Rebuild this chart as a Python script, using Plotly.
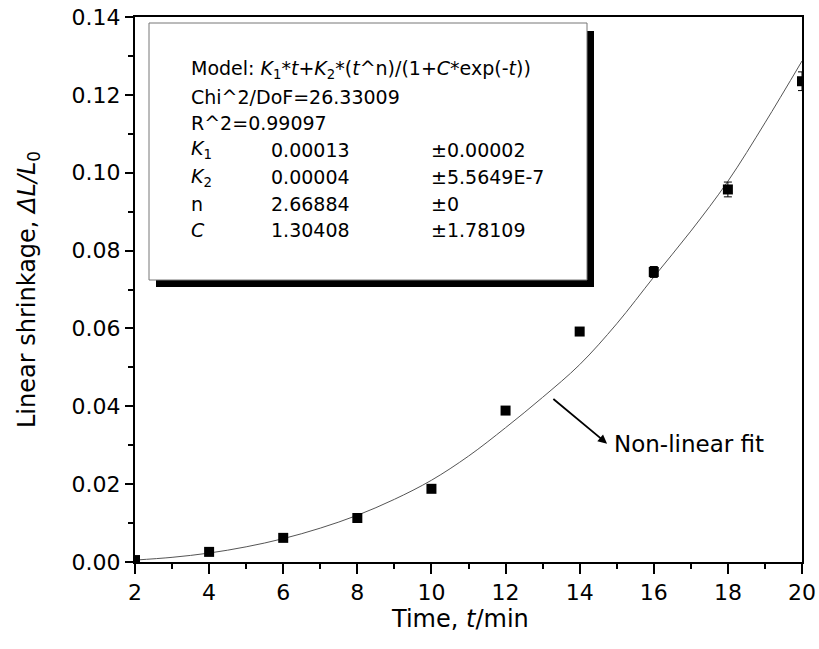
import plotly.graph_objects as go

# ---- data ----
time_min = [2, 4, 6, 8, 10, 12, 14, 16, 18, 20]
shrinkage = [0.0005, 0.0026, 0.0062, 0.0113, 0.0188, 0.0389, 0.0592, 0.0745, 0.0957, 0.1235]
shrink_err = [0.0, 0.0002, 0.0002, 0.0003, 0.0003, 0.0004, 0.0007, 0.0014, 0.0019, 0.0024]

fit_t = [2, 3, 4, 5, 6, 7, 8, 9, 10, 11, 12, 13, 14, 15, 16, 17, 18, 19, 20]
fit_y = [0.0005, 0.0012, 0.0023, 0.0039, 0.0060, 0.0087, 0.0120, 0.0161, 0.0210, 0.0272,
         0.0345, 0.0423, 0.0507, 0.0612, 0.0732, 0.0850, 0.0978, 0.1128, 0.1287]

x_ticks = [2, 4, 6, 8, 10, 12, 14, 16, 18, 20]
y_ticks = [0.00, 0.02, 0.04, 0.06, 0.08, 0.10, 0.12, 0.14]

box_lines = [
    "Model: <i>K</i><sub>1</sub>*<i>t</i>+<i>K</i><sub>2</sub>*(<i>t</i>^n)/(1+<i>C</i>*exp(-<i>t</i>))",
    "Chi^2/DoF=26.33009",
    "R^2=0.99097",
]
param_names = ["<i>K</i><sub>1</sub>", "<i>K</i><sub>2</sub>", "n", "<i>C</i>"]
param_values = ["0.00013", "0.00004", "2.66884", "1.30408"]
param_errors = ["±0.00002", "±5.5649E-7", "±0", "±1.78109"]

# ---- layout geometry (page pixels) ----
W, H = 819, 649
L, R, T, B = 135, 802, 17, 562          # plot area
FONT = "DejaVu Sans, Liberation Sans, Arial, sans-serif"


def px(xp):
    return (xp - L) / (R - L)


def py(yp):
    return (B - yp) / (B - T)


fig = go.Figure()

fig.add_trace(go.Scatter(
    x=fit_t, y=fit_y, mode="lines", line=dict(color="#555555", width=1, shape="spline"),
    showlegend=False, hoverinfo="skip"))

fig.add_trace(go.Scatter(
    x=time_min, y=shrinkage, mode="markers",
    marker=dict(symbol="square", size=10, color="black"),
    error_y=dict(type="data", array=shrink_err, visible=True, color="black", thickness=1, width=4),
    showlegend=False))

axis_common = dict(
    showline=True, linecolor="black", linewidth=2, mirror=True,
    ticks="outside", tickcolor="black", tickwidth=2,
    showgrid=False, zeroline=False, automargin=False,
    ticklabeloverflow="allow",
    tickfont=dict(family=FONT, size=22, color="black"),
)

fig.update_xaxes(range=[2, 20], tickvals=x_ticks, ticklen=10,
                 minor=dict(dtick=1, ticklen=5, tickcolor="black", tickwidth=2, ticks="outside", showgrid=False),
                 **axis_common)
fig.update_yaxes(range=[0, 0.14], tickvals=y_ticks, tickformat=".2f", ticklen=8,
                 minor=dict(dtick=0.01, ticklen=5, tickcolor="black", tickwidth=2, ticks="outside", showgrid=False),
                 **axis_common)

shapes = [
    # shadow
    dict(type="rect", xref="paper", yref="paper", x0=px(156), x1=px(594), y0=py(287), y1=py(31),
         fillcolor="black", line=dict(width=0), layer="above"),
    # box
    dict(type="rect", xref="paper", yref="paper", x0=px(149), x1=px(587), y0=py(280), y1=py(23),
         fillcolor="white", line=dict(color="#777777", width=1), layer="above"),
]

annotations = []
box_font = dict(family=FONT, size=19, color="black")
line_y = [70, 97, 123]
for txt, yy in zip(box_lines, line_y):
    annotations.append(dict(text=txt, xref="paper", yref="paper", x=px(189), y=py(yy),
                            xanchor="left", yanchor="middle", showarrow=False, font=box_font))
param_y = [150, 177, 204, 230]
for name, val, err, yy in zip(param_names, param_values, param_errors, param_y):
    for txt, xx in ((name, 189), (val, 269), (err, 429)):
        annotations.append(dict(text=txt, xref="paper", yref="paper", x=px(xx), y=py(yy),
                                xanchor="left", yanchor="middle", showarrow=False, font=box_font))

# arrow to fit curve
annotations.append(dict(text="", x=14.74, y=0.0304, xref="x", yref="y",
                        ax=13.25, ay=0.0422, axref="x", ayref="y",
                        showarrow=True, arrowhead=2, arrowsize=1, arrowwidth=1.8, arrowcolor="black"))
annotations.append(dict(text="Non-linear fit", xref="paper", yref="paper", x=px(612), y=py(444),
                        xanchor="left", yanchor="middle", showarrow=False,
                        font=dict(family=FONT, size=23, color="black")))

# axis titles
annotations.append(dict(text="Time, <i>t</i>/min", xref="paper", yref="paper", x=px(460), y=py(619),
                        xanchor="center", yanchor="middle", showarrow=False,
                        font=dict(family=FONT, size=24, color="black")))
annotations.append(dict(text="Linear shrinkage, <i>ΔL/L</i><sub>0</sub>", xref="paper", yref="paper",
                        x=px(28), y=py(290), xanchor="center", yanchor="middle", textangle=-90,
                        showarrow=False, font=dict(family=FONT, size=24, color="black")))

fig.update_layout(
    width=W, height=H,
    margin=dict(l=L, r=W - R, t=T, b=H - B, autoexpand=False),
    paper_bgcolor="white", plot_bgcolor="white",
    shapes=shapes, annotations=annotations,
    font=dict(family=FONT, color="black"),
)

fig.write_html(
    "out.html",
    config={"displayModeBar": False},
    post_script="document.body.style.margin='0px';document.body.style.padding='0px';"
                "document.body.style.overflow='hidden';",
)
